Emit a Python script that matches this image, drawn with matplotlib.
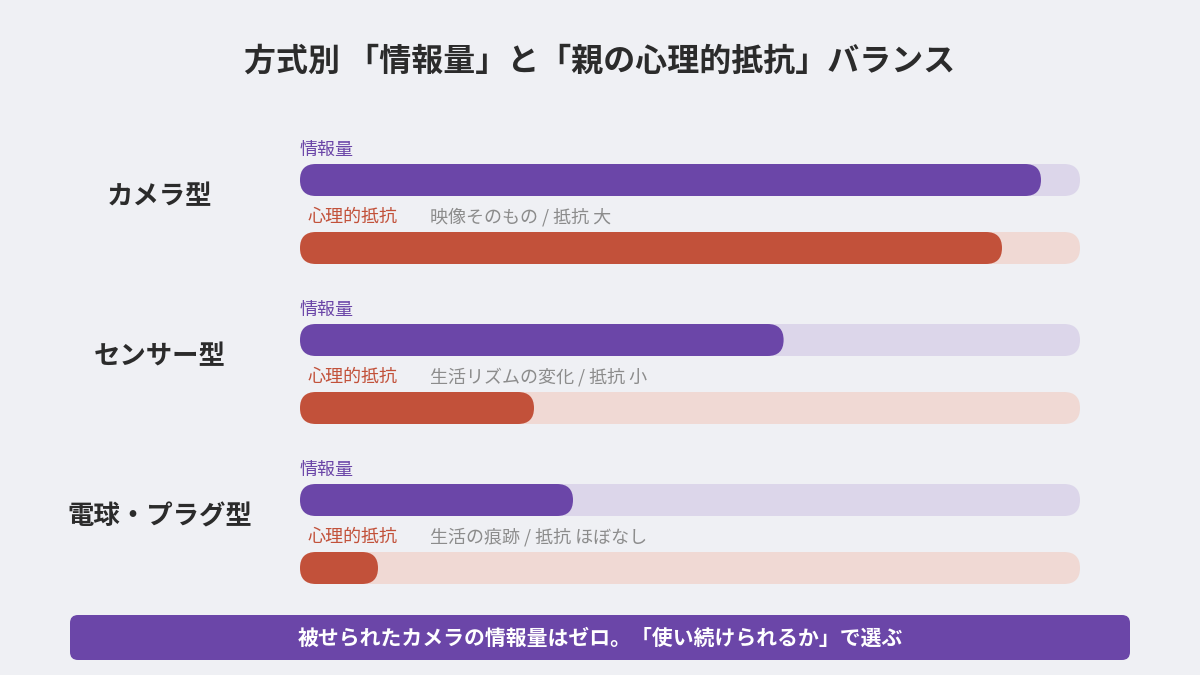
import matplotlib
matplotlib.use("Agg")
import matplotlib.pyplot as plt
from matplotlib.patches import FancyBboxPatch

plt.rcParams['font.family'] = ['Noto Sans CJK JP', 'DejaVu Sans']

title = "方式別 「情報量」と「親の心理的抵抗」バランス"
categories = ["カメラ型", "センサー型", "電球・プラグ型"]
info_values = [0.95, 0.62, 0.35]
resist_values = [0.90, 0.30, 0.10]
notes = ["映像そのもの / 抵抗 大", "生活リズムの変化 / 抵抗 小", "生活の痕跡 / 抵抗 ほぼなし"]
banner = "被せられたカメラの情報量はゼロ。「使い続けられるか」で選ぶ"

BG = "#EFF0F4"; PUR = "#6B46A8"; PUR_L = "#DCD6EA"; RED = "#C2513A"; RED_L = "#F0D9D4"; GRAY = "#8C8C8C"

fig = plt.figure(figsize=(12, 6.75), dpi=100, facecolor=BG)
ax = fig.add_axes([0, 0, 1, 1])
ax.set_xlim(0, 1200); ax.set_ylim(675, 0); ax.axis('off'); ax.set_facecolor(BG)

X0, W, H = 300, 780, 32

def rbar(x, yc, w, color):
    ax.add_patch(FancyBboxPatch((x, yc - H/2), w, H, boxstyle=f"round,pad=0,rounding_size={H/2}",
                                fc=color, ec='none', mutation_aspect=1))

ax.text(600, 62, title, ha='center', va='center', fontsize=23, fontweight='bold', color='#2B2B2B')

for i, cat in enumerate(categories):
    off = 160 * i
    ax.text(160, 197 + off, cat, ha='center', va='center', fontsize=19, fontweight='bold', color='#2B2B2B')
    ax.text(X0, 150 + off, "情報量", ha='left', va='center', fontsize=13, color=PUR)
    rbar(X0, 180 + off, W, PUR_L)
    rbar(X0, 180 + off, W * info_values[i], PUR)
    ax.text(X0 + 8, 217 + off, "心理的抵抗", ha='left', va='center', fontsize=13, color=RED)
    ax.text(X0 + 130, 217 + off, notes[i], ha='left', va='center', fontsize=13, color=GRAY)
    rbar(X0, 248 + off, W, RED_L)
    rbar(X0, 248 + off, W * resist_values[i], RED)

ax.add_patch(FancyBboxPatch((70, 615), 1060, 45, boxstyle="round,pad=0,rounding_size=8", fc=PUR, ec='none'))
ax.text(600, 638, banner, ha='center', va='center', fontsize=15, fontweight='bold', color='white')

fig.savefig("out.png", dpi=100, facecolor=BG)
